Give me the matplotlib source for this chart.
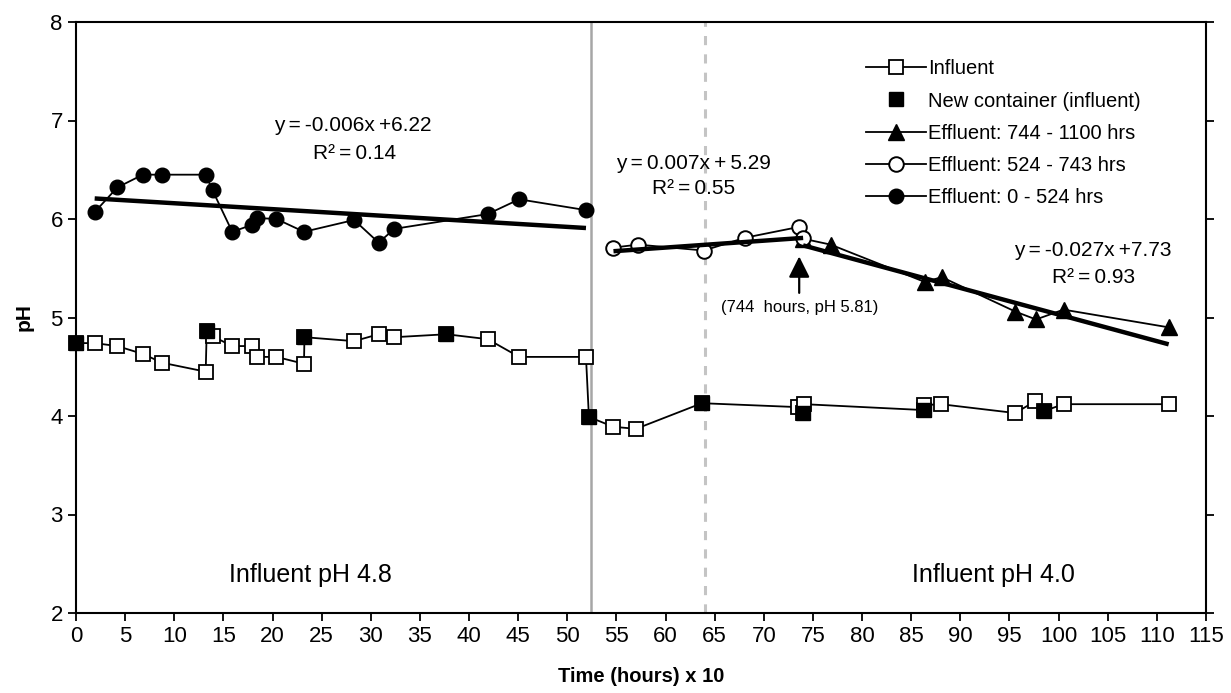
import matplotlib
matplotlib.use("Agg")
import matplotlib.pyplot as plt
import numpy as np

plt.rcParams['font.family'] = ['Liberation Sans', 'DejaVu Sans']

# ---------------- data ----------------
influent_x = [0, 1.9, 4.2, 6.8, 8.8, 13.2, 13.3, 13.9, 15.9, 17.9, 18.4, 20.4, 23.2, 23.25,
              28.3, 30.8, 32.4, 37.7, 41.9, 45.1, 51.9, 52.2, 54.7, 57.0, 63.7, 73.5, 74.0,
              74.1, 86.3, 86.3, 88.0, 95.6, 97.6, 98.5, 100.5, 111.2]
influent_ph = [4.74, 4.74, 4.71, 4.63, 4.54, 4.45, 4.86, 4.81, 4.71, 4.71, 4.60, 4.60, 4.53, 4.80,
               4.76, 4.83, 4.80, 4.83, 4.78, 4.60, 4.60, 3.99, 3.89, 3.87, 4.13, 4.09, 4.03,
               4.12, 4.06, 4.11, 4.12, 4.03, 4.15, 4.05, 4.12, 4.12]

new_container_x = [0, 13.3, 23.25, 37.7, 52.2, 63.7, 74.0, 86.3, 98.5]
new_container_ph = [4.74, 4.86, 4.80, 4.83, 3.99, 4.13, 4.03, 4.06, 4.05]

eff3_x = [74.0, 76.8, 86.4, 88.1, 95.6, 97.7, 100.5, 111.2]
eff3_ph = [5.80, 5.74, 5.36, 5.41, 5.06, 4.98, 5.08, 4.90]

eff2_x = [54.7, 57.2, 63.9, 68.1, 73.6, 74.0]
eff2_ph = [5.71, 5.74, 5.68, 5.81, 5.92, 5.81]

eff1_x = [1.9, 4.2, 6.8, 8.8, 13.2, 13.9, 15.9, 17.9, 18.4, 20.4, 23.2, 28.3, 30.8, 32.4,
          41.9, 45.1, 51.9]
eff1_ph = [6.07, 6.32, 6.45, 6.45, 6.45, 6.29, 5.87, 5.94, 6.01, 6.00, 5.87, 5.99, 5.76, 5.90,
           6.05, 6.20, 6.09]

# trend line coefficients (slope, intercept) as printed on the chart
trend1 = (-0.006, 6.22)
trend2 = (0.007, 5.29)
trend3 = (-0.027, 7.73)

x_ticks = list(range(0, 116, 5))
y_ticks = [2, 3, 4, 5, 6, 7, 8]

# ---------------- figure ----------------
fig = plt.figure(figsize=(12.31, 6.93), dpi=100)
ax = fig.add_axes([76 / 1231, 1 - 613 / 693, (1206 - 76) / 1231, (613 - 22) / 693])

ax.set_xlim(0, 115)
ax.set_ylim(2, 8)
ax.set_xticks(x_ticks)
ax.set_yticks(y_ticks)

# vertical divider lines
ax.axvline(52.4, color='#a6a6a6', lw=1.8, zorder=1)
ax.axvline(64.0, color='#c4c4c4', lw=2.2, ls=(0, (3, 3)), zorder=1)

lw = 1.3
ms_sq = 9.5
# influent
ax.plot(influent_x, influent_ph, color='black', lw=lw, marker='s', ms=ms_sq,
        mfc='white', mec='black', mew=1.3, label='Influent', zorder=3, clip_on=False)
ax.plot(new_container_x, new_container_ph, ls='none', marker='s', ms=ms_sq,
        mfc='black', mec='black', label='New container (influent)', zorder=4, clip_on=False)

# effluent series
ax.plot(eff3_x, eff3_ph, color='black', lw=lw, marker='^', ms=11.5, mfc='black',
        mec='black', label='Effluent: 744 - 1100 hrs', zorder=3)
ax.plot(eff2_x, eff2_ph, color='black', lw=lw, marker='o', ms=10.5, mfc='white',
        mec='black', mew=1.4, label='Effluent: 524 - 743 hrs', zorder=3)
ax.plot(eff1_x, eff1_ph, color='black', lw=lw, marker='o', ms=10.5, mfc='black',
        mec='black', label='Effluent: 0 - 524 hrs', zorder=3)

# trend lines
for (xs, (m, b)) in [(eff1_x, trend1), (eff2_x, trend2), (eff3_x, trend3)]:
    xx = np.array([min(xs), max(xs)])
    ax.plot(xx, m * xx + b, color='black', lw=3.2, zorder=5, solid_capstyle='butt')

fs = 15
ts = '\u2009'
ax.text(28.2, 6.95, f'y{ts}={ts}-0.006x{ts}+6.22', ha='center', va='center', fontsize=fs)
ax.text(28.4, 6.67, f'R\u00b2{ts}={ts}0.14', ha='center', va='center', fontsize=fs)
ax.text(62.8, 6.56, f'y{ts}={ts}0.007x{ts}+{ts}5.29', ha='center', va='center', fontsize=fs)
ax.text(62.8, 6.31, f'R\u00b2{ts}={ts}0.55', ha='center', va='center', fontsize=fs)
ax.text(103.5, 5.68, f'y{ts}={ts}-0.027x{ts}+7.73', ha='center', va='center', fontsize=fs)
ax.text(103.6, 5.41, f'R\u00b2{ts}={ts}0.93', ha='center', va='center', fontsize=fs)

ax.annotate('', xy=(73.6, 5.62), xytext=(73.6, 5.25),
            arrowprops=dict(arrowstyle='-|>', mutation_scale=32, lw=1.6, color='black',
                            shrinkA=0, shrinkB=0))
ax.text(73.7, 5.10, '(744  hours, pH 5.81)', ha='center', va='center', fontsize=12)

ax.text(23.9, 2.39, 'Influent pH 4.8', ha='center', va='center', fontsize=18)
ax.text(93.4, 2.39, 'Influent pH 4.0', ha='center', va='center', fontsize=18)

# axes styling
for s in ax.spines.values():
    s.set_linewidth(1.5)
ax.tick_params(axis='both', direction='out', length=6, width=1.3, labelsize=16)
ax.tick_params(axis='y', right=True, labelright=False)
ax.set_xlabel('Time (hours) x 10', fontsize=14.5, fontweight='bold', labelpad=14)
ax.set_ylabel('pH', fontsize=15, fontweight='bold', labelpad=12)

ax.legend(loc='upper left', bbox_to_anchor=(0.699, 0.937), frameon=False, fontsize=14.5,
          handlelength=3.0, handletextpad=0.1, labelspacing=0.66, borderpad=0,
          borderaxespad=0)

fig.savefig('out.png', dpi=100)
